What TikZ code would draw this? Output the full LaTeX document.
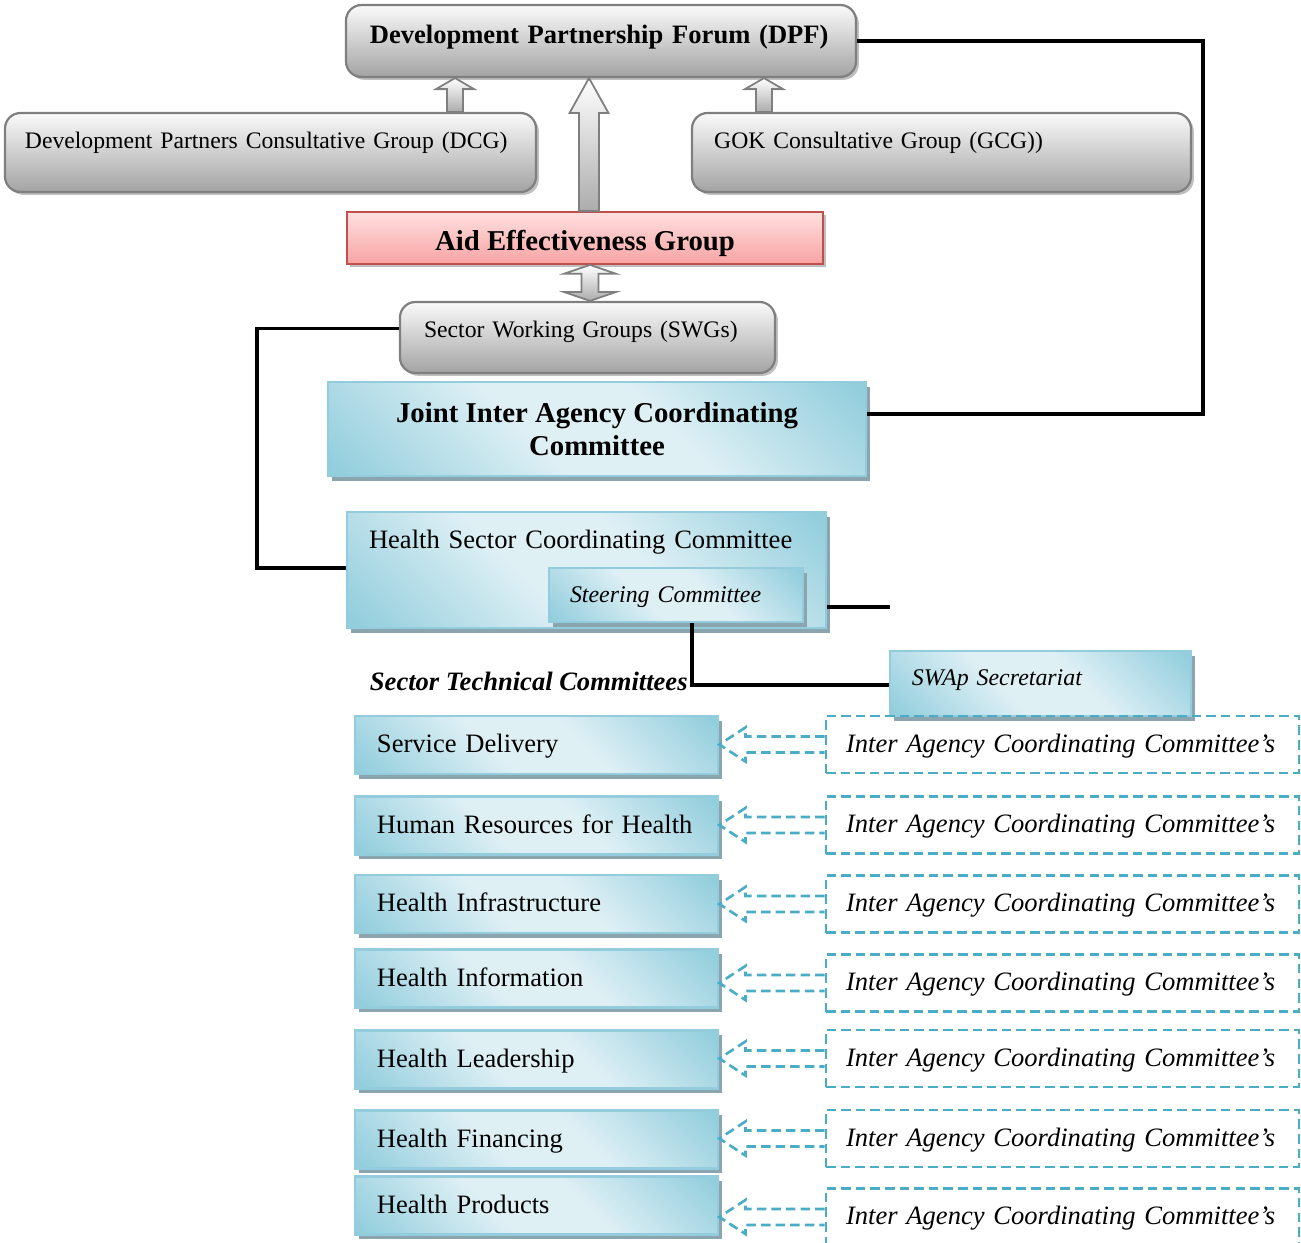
\documentclass[tikz,border=0pt]{standalone}
\usepackage{fontspec}
\setmainfont{Liberation Serif}
\usetikzlibrary{shadows,calc,positioning}

\definecolor{grayedge}{HTML}{7F7F7F}
\definecolor{graytop}{HTML}{FAFAFA}
\definecolor{graybot}{HTML}{A3A3A3}
\definecolor{pinktop}{HTML}{FFE0E0}
\definecolor{pinkbot}{HTML}{F8A3A3}
\definecolor{pinkedge}{HTML}{C0504D}
\definecolor{blued}{HTML}{93CEDD}
\definecolor{bluel}{HTML}{DFF0F5}
\definecolor{blueedge}{HTML}{93CDDD}
\definecolor{blueshadow}{HTML}{8AA5AE}
\definecolor{dashblue}{HTML}{4BACC6}

\pgfdeclareverticalshading{bluediag}{100bp}{color(0bp)=(blued); color(16bp)=(blued);
  color(42bp)=(bluel); color(58bp)=(bluel); color(84bp)=(blued); color(100bp)=(blued)}

\tikzset{
  graybox/.style={draw=grayedge, line width=1pt, rounded corners=7pt, top color=graytop, bottom color=graybot,
    drop shadow={shadow xshift=1.3pt, shadow yshift=-1.3pt, fill=black!25, opacity=1},
    font=\fontsize{10.7}{13}\selectfont, inner sep=0pt},
  pinkbox/.style={draw=pinkedge, line width=0.8pt, top color=pinktop, bottom color=pinkbot,
    drop shadow={shadow xshift=1.3pt, shadow yshift=-1.3pt, fill=black!25, opacity=1}, inner sep=0pt},
  bluebox/.style={draw=blueedge, line width=1.2pt, shading=bluediag, shading angle=-45,
    drop shadow={shadow xshift=2pt, shadow yshift=-2.2pt, fill=blueshadow, opacity=1},
    inner sep=0pt},
  oneline/.style={text height=9pt, text depth=1.8pt},
  stcbox/.style={bluebox, oneline, minimum width=164.1pt, minimum height=26.2pt, text width=144.2pt, align=left,
    font=\fontsize{12}{14}\selectfont},
  iaccbox/.style={oneline, draw=dashblue, line width=1.2pt, dash pattern=on 4.3pt off 2.3pt, minimum width=213.8pt,
    minimum height=25.8pt, text width=195.7pt, align=left, inner sep=0pt, font=\itshape\fontsize{12}{14}\selectfont},
  link/.style={line width=1.5pt, black},
  blockarrow/.style={draw=grayedge, line width=0.8pt, top color=white, bottom color=gray!65},
  dasharrow/.style={draw=dashblue, line width=1.2pt, dash pattern=on 4.3pt off 2.3pt},
}

% up block arrow: x, lower node, upper node, half shaft, half head, head length
\newcommand{\blockup}[6]{%
  \coordinate (ba) at (#1,0);
  \path[blockarrow] let \p1=(ba |- #2.north), \p2=(ba |- #3.south) in
    (\x1-#4,\y1) -- (\x1-#4,\y2-#6) -- (\x1-#5,\y2-#6) -- (\x1,\y2) -- (\x1+#5,\y2-#6)
    -- (\x1+#4,\y2-#6) -- (\x1+#4,\y1) -- cycle;}
% two-headed block arrow
\newcommand{\blockboth}[6]{%
  \coordinate (ba) at (#1,0);
  \path[blockarrow] let \p1=(ba |- #2.north), \p2=(ba |- #3.south) in
    (\x1,\y1) -- (\x1-#5,\y1+#6) -- (\x1-#4,\y1+#6) -- (\x1-#4,\y2-#6) -- (\x1-#5,\y2-#6) -- (\x1,\y2)
    -- (\x1+#5,\y2-#6) -- (\x1+#4,\y2-#6) -- (\x1+#4,\y1+#6) -- (\x1+#5,\y1+#6) -- cycle;}
% dashed hollow arrow from committee box to technical committee
\newcommand{\dasharr}[2]{%
  \path[dasharrow] let \p1=(#2.west), \p2=(#1.east) in
    (\x1,\y1+3.6pt) -- (\x2+11.8pt,\y1+3.6pt) -- (\x2+11.8pt,\y1+7.7pt) -- (\x2,\y1)
    -- (\x2+11.8pt,\y1-7.7pt) -- (\x2+11.8pt,\y1-3.6pt) -- (\x1,\y1-3.6pt);}

\begin{document}
\begin{tikzpicture}[x=0.452pt, y=-0.452pt]
  \useasboundingbox (0,0) rectangle (1301,1243);

  \node[graybox, minimum width=230.5pt, minimum height=32.5pt, text width=208.9pt, align=left,
    font=\bfseries\fontsize{12}{14}\selectfont, text height=9pt, text depth=6.4pt] (dpf) at (601,41)
    {Development Partnership Forum (DPF)};
  \node[graybox, minimum width=240pt, minimum height=35.7pt, text width=222pt, align=left,
    text height=9pt, text depth=12.2pt] (dcg) at (270.5,152.5) {Development Partners Consultative Group (DCG)};
  \node[graybox, minimum width=225.5pt, minimum height=35.7pt, text width=205.5pt, align=left,
    text height=9pt, text depth=12.2pt] (gcg) at (941.5,152.5) {GOK Consultative Group (GCG))};
  \node[pinkbox, minimum width=215.2pt, minimum height=23.5pt, font=\bfseries\fontsize{13}{15}\selectfont,
    text height=11.4pt, text depth=0pt] (aeg) at (585,238) {Aid Effectiveness Group};
  \node[graybox, minimum width=169.5pt, minimum height=32.1pt, text width=147.8pt, align=left,
    text height=9pt, text depth=8.6pt] (swg) at (587.5,337.5) {Sector Working Groups (SWGs)};

  \blockup{455}{dcg}{dpf}{3.6pt}{8.6pt}{5pt}
  \blockup{764}{gcg}{dpf}{3.6pt}{8.6pt}{5pt}
  \blockup{589}{aeg}{dpf}{4.5pt}{8.8pt}{15.8pt}
  \blockboth{590}{swg}{aeg}{3.8pt}{11.7pt}{4pt}

  \node[bluebox, minimum width=243.2pt, minimum height=42.5pt, align=center,
    font=\bfseries\fontsize{13}{15}\selectfont] (jiacc) at (597,429) {Joint Inter Agency Coordinating\\Committee};
  \node[bluebox, minimum width=216.5pt, minimum height=52.4pt, text width=196.6pt, align=left,
    font=\fontsize{12}{14}\selectfont, text height=9pt, text depth=28.2pt] (hscc) at (586.5,570)
    {Health Sector Coordinating Committee};
  \node[bluebox, oneline, minimum width=114.8pt, minimum height=24.4pt, text width=95.8pt, align=left,
    font=\itshape\fontsize{10.8}{13}\selectfont] (steer) at (676,595) {Steering Committee};
  \node[bluebox, minimum width=136.1pt, minimum height=29.4pt, text width=116.2pt, align=left,
    font=\itshape\fontsize{10.8}{13}\selectfont, text height=9pt, text depth=6.8pt] (swap) at (1040.5,683.5)
    {SWAp Secretariat};

  \coordinate (rr) at (1203,414);
  \draw[link] (dpf.east) -| (rr) -- (rr -| jiacc.east);
  \coordinate (ll) at (257,568);
  \draw[link] ([yshift=4pt]swg.west) -| (ll) -- (ll -| hscc.west);
  \coordinate (hs) at (890,607);
  \draw[link] (hs -| hscc.east) -- (hs);
  \coordinate (st) at (692,685);
  \draw[link] (st |- steer.south) -- (st) -- (st -| swap.west);
  \node[anchor=base east, inner sep=0pt, font=\bfseries\itshape\fontsize{12}{14}\selectfont]
    (stclabel) at (688,690) {Sector Technical Committees};

  \node[stcbox] (sd) at (536.5,745) {Service Delivery};
  \node[stcbox] (hrh) at (536.5,825.5) {Human Resources for Health};
  \node[stcbox] (hinfra) at (536.5,904) {Health Infrastructure};
  \node[stcbox] (hinfo) at (536.5,978.5) {Health Information};
  \node[stcbox] (hlead) at (536.5,1059.5) {Health Leadership};
  \node[stcbox] (hfin) at (536.5,1139.5) {Health Financing};
  \node[stcbox] (hprod) at (536.5,1205.5) {Health Products};

  \node[iaccbox] (iacc1) at (1062.5,744.5) {Inter Agency Coordinating Committee’s};
  \node[iaccbox] (iacc2) at (1062.5,825) {Inter Agency Coordinating Committee’s};
  \node[iaccbox] (iacc3) at (1062.5,904) {Inter Agency Coordinating Committee’s};
  \node[iaccbox] (iacc4) at (1062.5,983) {Inter Agency Coordinating Committee’s};
  \node[iaccbox] (iacc5) at (1062.5,1058.5) {Inter Agency Coordinating Committee’s};
  \node[iaccbox] (iacc6) at (1062.5,1138.5) {Inter Agency Coordinating Committee’s};
  \node[iaccbox] (iacc7) at (1062.5,1217) {Inter Agency Coordinating Committee’s};

  \dasharr{sd}{iacc1}
  \dasharr{hrh}{iacc2}
  \dasharr{hinfra}{iacc3}
  \dasharr{hinfo}{iacc4}
  \dasharr{hlead}{iacc5}
  \dasharr{hfin}{iacc6}
  \dasharr{hprod}{iacc7}
\end{tikzpicture}
\end{document}
